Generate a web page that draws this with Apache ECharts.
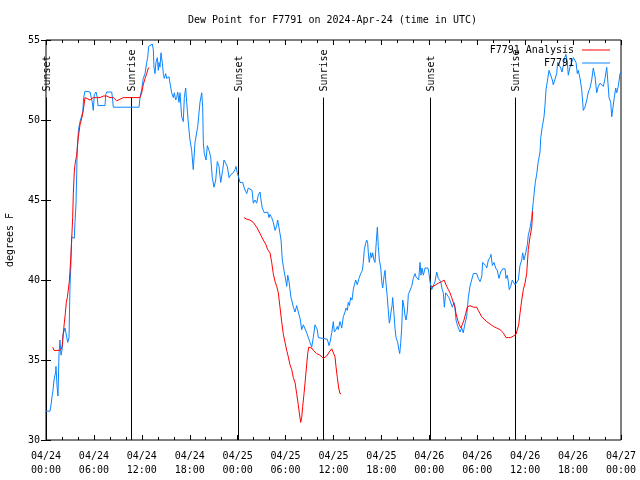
<!DOCTYPE html>
<html>
<head>
<meta charset="utf-8">
<script src="https://cdn.jsdelivr.net/npm/echarts@6/dist/echarts.min.js"></script>
<style>html,body{margin:0;padding:0;background:#fff}#c{width:640px;height:480px}</style>
</head>
<body>
<div id="c"></div>
<script>
// ---- data (hours since 2024-04-24 00:00 UTC, dew point in deg F) ----
const titleText = 'Dew Point for F7791 on 2024-Apr-24 (time in UTC)';
const yAxisName = 'degrees F';
const tickDates = ['04/24','04/24','04/24','04/24','04/25','04/25','04/25','04/25','04/26','04/26','04/26','04/26','04/27'];
const tickTimes = ['00:00','06:00','12:00','18:00','00:00','06:00','12:00','18:00','00:00','06:00','12:00','18:00','00:00'];

const stationHours = [0.00,0.50,0.63,0.75,0.88,1.00,1.21,1.25,1.38,1.50,1.63,1.75,1.88,2.00,2.13,2.38,2.59,2.72,2.88,3.01,3.09,3.22,3.54,3.63,3.76,3.84,3.92,4.07,4.26,4.51,4.60,4.72,4.88,5.51,5.72,5.80,5.92,6.05,6.26,6.42,6.51,7.39,7.48,7.60,8.23,8.35,8.43,11.65,11.77,11.98,12.18,12.40,12.61,12.73,12.86,13.11,13.31,13.44,13.52,13.65,13.77,13.94,14.06,14.15,14.27,14.40,14.56,14.69,14.81,14.99,15.11,15.24,15.40,15.53,15.74,15.94,16.07,16.24,16.37,16.49,16.65,16.78,16.99,17.19,17.32,17.49,17.62,17.82,18.03,18.24,18.44,18.66,19.00,19.28,19.50,19.62,19.70,19.82,20.04,20.20,20.41,20.62,20.82,21.04,21.25,21.45,21.66,21.88,22.13,22.29,22.54,22.70,22.92,23.17,23.45,23.67,23.79,23.95,24.13,24.29,24.63,24.83,25.13,25.33,25.54,25.80,25.96,26.17,26.38,26.58,26.80,26.92,27.08,27.34,27.55,27.76,27.92,28.05,28.26,28.46,28.68,28.89,29.01,29.18,29.30,29.43,29.59,29.80,30.02,30.14,30.27,30.43,30.55,30.68,30.77,30.97,31.18,31.39,31.59,31.81,32.02,32.22,32.43,32.64,32.85,33.06,33.27,33.47,33.68,33.81,33.97,34.10,34.31,35.22,35.44,35.56,35.78,35.98,36.10,36.31,36.48,36.60,36.81,37.03,37.23,37.44,37.57,37.73,37.85,37.98,38.15,38.32,38.48,38.61,38.78,38.98,39.19,39.41,39.61,39.73,39.86,40.03,40.16,40.28,40.36,40.48,40.66,40.78,40.91,41.07,41.20,41.36,41.49,41.61,41.74,41.91,42.04,42.16,42.32,42.45,42.57,42.74,42.86,42.99,43.08,43.20,43.33,43.41,43.54,43.70,43.83,44.04,44.20,44.29,44.42,44.54,44.67,44.83,44.95,45.08,45.24,45.37,45.58,45.79,45.99,46.21,46.33,46.49,46.67,46.83,46.96,47.08,47.25,47.46,47.67,47.83,47.96,48.08,48.30,48.50,48.71,48.92,49.12,49.42,49.62,49.75,49.88,50.05,50.25,50.46,50.68,50.88,51.09,51.21,51.34,51.50,51.72,51.84,52.05,52.25,52.47,52.68,52.88,53.09,53.31,53.51,53.72,53.93,54.13,54.35,54.56,54.68,54.85,55.06,55.19,55.39,55.60,55.72,55.89,56.10,56.31,56.51,56.72,56.94,57.19,57.48,57.60,57.76,57.89,58.01,58.19,58.39,58.60,58.73,58.94,59.14,59.35,59.57,59.69,59.85,60.07,60.27,60.39,60.61,60.82,61.02,61.14,61.27,61.44,61.64,61.86,61.95,62.15,62.36,62.48,62.61,62.77,62.99,63.24,63.40,63.52,63.74,63.95,64.07,64.28,64.45,64.61,64.78,64.95,65.11,65.28,65.40,65.61,65.83,66.03,66.24,66.37,66.53,66.65,66.87,67.08,67.28,67.49,67.71,67.91,68.12,68.33,68.53,68.75,68.96,69.16,69.37,69.58,69.79,70.00,70.21,70.34,70.50,70.71,70.84,71.04,71.16,71.34,71.46,71.66,71.88,72.00];
const stationDewF = [31.8,31.8,32.2,32.7,33.1,33.75,34.25,34.6,33.4,32.75,35.4,36.25,35.3,35.6,36.6,37.0,37.0,36.1,36.4,39.7,40.6,42.7,42.6,43.6,44.8,46.6,48.3,49.4,49.9,50.0,50.5,51.4,51.8,51.75,51.7,51.1,50.6,51.6,51.75,51.4,50.9,50.9,51.6,51.75,51.75,51.25,50.8,50.8,51.4,51.9,52.6,52.9,53.6,53.9,54.6,54.6,54.75,54.4,53.3,52.9,53.6,53.9,53.1,53.6,53.3,54.2,53.6,52.9,52.6,52.9,52.6,52.5,52.7,52.3,51.7,51.4,51.7,51.25,51.4,51.75,51.1,51.7,50.2,49.9,51.4,52.0,51.1,49.8,48.75,48.1,46.9,48.6,49.6,51.1,51.7,50.8,48.6,47.9,47.5,48.4,48.1,47.7,46.4,45.8,46.25,47.4,47.1,46.1,46.9,47.5,47.6,47.1,46.4,46.6,46.7,46.9,47.1,46.7,46.4,46.1,46.1,45.75,45.4,45.75,45.8,45.6,44.8,45.0,44.8,45.3,45.5,45.0,44.5,44.2,44.1,44.25,43.9,44.1,43.9,43.6,43.1,43.4,43.75,43.25,42.9,42.5,41.25,40.6,40.0,39.6,40.3,39.9,39.4,38.9,38.75,38.3,38.0,38.4,38.0,37.6,36.9,37.2,37.2,36.7,36.6,36.1,35.8,36.4,37.2,37.3,36.9,36.4,36.3,36.3,35.9,36.1,36.7,37.4,36.75,36.9,37.1,36.9,37.4,37.0,37.7,38.0,38.25,38.1,38.6,38.4,38.9,38.75,39.4,39.7,40.0,39.7,40.1,40.4,40.6,41.1,41.9,42.3,42.5,42.3,41.7,41.1,41.7,41.4,41.7,41.25,41.1,42.4,43.3,42.1,41.25,40.8,39.9,39.5,40.2,40.6,39.8,38.9,38.1,37.3,37.5,38.0,38.4,38.9,38.1,37.0,36.4,36.1,35.6,35.4,36.1,37.0,38.75,38.3,37.8,37.5,38.0,39.1,39.2,39.6,40.1,40.4,40.2,40.1,40.0,41.1,40.3,40.75,40.3,40.75,40.8,40.75,40.4,39.9,39.4,39.5,39.9,40.5,40.1,39.9,39.4,39.2,38.3,39.2,39.2,38.9,38.9,38.3,38.6,38.25,37.5,37.2,36.9,36.75,37.0,36.7,37.3,37.7,38.9,39.6,39.7,40.4,40.5,40.4,40.1,39.9,40.2,41.1,41.1,40.9,40.75,41.25,41.4,41.6,40.9,41.1,40.75,40.6,40.1,40.5,40.7,40.7,40.1,40.3,39.9,39.4,39.6,40.0,40.1,39.7,39.8,40.0,40.9,41.25,41.7,41.25,41.7,42.2,42.8,43.25,43.9,44.9,45.5,46.1,46.6,47.4,48.0,48.9,49.6,50.2,50.9,51.9,52.4,53.1,53.1,52.5,52.2,52.2,52.9,53.6,53.6,53.25,53.0,53.4,53.9,54.1,53.6,52.8,53.3,53.6,53.9,53.9,53.6,52.9,53.1,52.6,51.9,50.6,50.8,51.25,51.75,52.0,52.5,53.25,52.7,51.7,52.1,52.3,52.2,52.1,52.6,53.3,52.5,51.4,51.1,50.2,50.2,51.4,52.0,51.7,52.1,52.9,53.0];

// analysis: null separates the three runs
const analysisHours = [0.84,1.00,1.75,1.97,2.04,2.17,2.29,2.42,2.54,2.67,2.84,2.92,3.09,3.22,3.34,3.42,3.54,3.63,3.76,3.84,4.04,4.26,4.47,4.67,4.88,5.10,5.51,5.92,6.35,6.76,7.18,7.60,8.01,8.43,8.85,9.27,9.68,10.52,11.77,11.98,12.18,12.40,12.61,12.81,12.94,
  18.0,
  24.79,25.13,25.54,25.96,26.38,26.80,27.21,27.55,27.76,28.05,28.26,28.46,28.68,28.89,29.09,29.30,29.51,29.72,29.93,30.14,30.34,30.55,30.77,30.97,31.18,31.39,31.59,31.72,31.89,32.02,32.14,32.31,32.47,32.64,32.77,32.90,33.06,33.27,33.47,33.90,34.31,34.72,34.94,35.15,35.47,35.78,35.98,36.19,36.31,36.48,36.65,36.81,36.94,
  42.0,
  48.17,48.50,48.80,49.12,49.55,49.84,50.05,50.18,50.38,50.59,50.80,51.00,51.21,51.34,51.55,51.75,51.97,52.13,52.34,52.55,52.75,52.88,53.09,53.51,53.93,54.13,54.35,54.56,54.76,55.19,55.60,56.01,56.44,56.85,57.26,57.60,57.89,58.19,58.52,58.85,59.02,59.19,59.35,59.57,59.77,59.98,60.19,60.39,60.61,60.82,60.94];
const analysisDewF = [35.8,35.6,35.6,35.75,35.9,36.7,37.3,37.9,38.6,38.9,38.9,39.9,41.25,42.6,43.9,45.4,46.75,47.2,47.6,47.8,48.9,49.7,50.1,50.6,51.4,51.3,51.25,51.4,51.4,51.4,51.5,51.5,51.4,51.4,51.2,51.3,51.4,51.4,51.4,51.7,52.2,52.6,52.9,53.25,53.25,
  null,
  43.9,43.8,43.75,43.6,43.3,42.9,42.5,42.2,41.9,41.7,41.1,40.4,39.9,39.6,39.2,38.3,37.4,36.6,36.1,35.6,35.2,34.7,34.4,33.9,33.6,32.9,32.2,31.7,31.1,31.4,32.1,32.9,33.75,34.7,35.4,35.8,35.8,35.75,35.6,35.4,35.3,35.1,35.1,35.25,35.5,35.7,35.75,35.2,34.6,33.9,33.25,32.9,32.9,
  null,
  39.6,39.6,39.7,39.8,39.9,40.0,39.9,39.6,39.4,39.2,38.9,38.6,38.3,37.9,37.5,37.2,37.0,37.1,37.5,37.9,38.3,38.4,38.4,38.3,38.3,38.1,37.9,37.7,37.6,37.4,37.25,37.1,37.0,36.9,36.7,36.4,36.4,36.4,36.5,36.6,36.7,37.2,37.9,38.75,39.4,39.8,40.4,41.9,42.7,43.3,44.3];

const sunHours = [0.05, 10.65, 24.05, 34.68, 48.08, 58.72];
const sunLabels = ['Sunset','Sunrise','Sunset','Sunrise','Sunset','Sunrise'];
const sunLineTop = 51.4;

const FONT = 'DejaVu Sans Mono';
const zip = (xs, ys) => xs.map((x, i) => [x, ys[i]]);

const chart = echarts.init(document.getElementById('c'), null, {renderer: 'canvas'});
const tickCommon = {
  axisLine: {show: false},
  axisTick: {show: true, inside: true, length: 5, lineStyle: {color: '#000', width: 1}},
  splitLine: {show: false}
};
const legendCommon = {
  right: 30, orient: 'vertical', align: 'right', icon: 'rect', itemWidth: 28, itemHeight: 1, padding: 0,
  textStyle: {fontFamily: FONT, fontSize: 10, color: '#000', padding: [0, 3, 0, 0]}
};
chart.setOption({
  animation: false,
  backgroundColor: '#fff',
  title: {
    text: titleText, left: 188, top: 15, padding: 0,
    textStyle: {fontFamily: FONT, fontSize: 10, fontWeight: 'normal', color: '#000'}
  },
  legend: [
    Object.assign({data: ['F7791 Analysis'], top: 45}, legendCommon),
    Object.assign({data: ['F7791'], top: 58}, legendCommon)
  ],
  grid: {left: 46, right: 19, top: 40, bottom: 40, containLabel: false, outerBoundsMode: 'none',
         show: true, borderColor: '#000', borderWidth: 1, backgroundColor: 'transparent'},
  xAxis: [
    Object.assign({
      type: 'value', min: 0, max: 72, interval: 6, position: 'bottom',
      minorTick: {show: true, splitNumber: 3, length: 3, lineStyle: {color: '#000', width: 1}},
      axisLabel: {
        show: true, margin: 9, showMinLabel: true, showMaxLabel: true, hideOverlap: false,
        fontFamily: FONT, fontSize: 10, color: '#000', lineHeight: 14,
        formatter: v => { const i = Math.round(v / 6); return tickDates[i] + '\n' + tickTimes[i]; }
      }
    }, tickCommon),
    Object.assign({
      type: 'value', min: 0, max: 72, interval: 6, position: 'top',
      minorTick: {show: true, splitNumber: 3, length: 3, lineStyle: {color: '#000', width: 1}},
      axisLabel: {show: false}
    }, tickCommon)
  ],
  yAxis: [
    Object.assign({
      type: 'value', min: 30, max: 55, interval: 5, position: 'left',
      name: yAxisName, nameLocation: 'middle', nameGap: 31,
      nameTextStyle: {fontFamily: FONT, fontSize: 10, color: '#000'},
      axisLabel: {margin: 6, fontFamily: FONT, fontSize: 10, color: '#000'}
    }, tickCommon),
    Object.assign({
      type: 'value', min: 30, max: 55, interval: 5, position: 'right',
      axisLabel: {show: false}
    }, tickCommon)
  ],
  series: [
    {
      type: 'custom', name: 'sun', xAxisIndex: 0, yAxisIndex: 0, silent: true, z: 1,
      data: sunHours.map(h => [h, 30]),
      encode: {x: 0, y: 1},
      renderItem: (params, api) => {
        const t = api.value(0);
        const p0 = api.coord([t, 30]);
        const p1 = api.coord([t, sunLineTop]);
        const x = Math.round(p0[0]) + 0.5;
        return {
          type: 'group',
          children: [
            {type: 'line', shape: {x1: x, y1: p0[1], x2: x, y2: p1[1]}, style: {stroke: '#000', lineWidth: 1}},
            {type: 'text', x: x + 1, y: p1[1] - 6, rotation: Math.PI / 2,
             style: {text: sunLabels[params.dataIndex], fontFamily: FONT, fontSize: 10, fill: '#000', align: 'left', verticalAlign: 'middle'}}
          ]
        };
      }
    },
    {
      type: 'line', name: 'F7791 Analysis', xAxisIndex: 0, yAxisIndex: 0, z: 3,
      data: zip(analysisHours, analysisDewF), showSymbol: false, symbol: 'none', connectNulls: false,
      lineStyle: {color: '#ff0000', width: 1}, itemStyle: {color: '#ff0000'}
    },
    {
      type: 'line', name: 'F7791', xAxisIndex: 0, yAxisIndex: 0, z: 2,
      data: zip(stationHours, stationDewF), showSymbol: false, symbol: 'none',
      lineStyle: {color: '#0a84ff', width: 1}, itemStyle: {color: '#0a84ff'}
    }
  ]
});
</script>
</body>
</html>
